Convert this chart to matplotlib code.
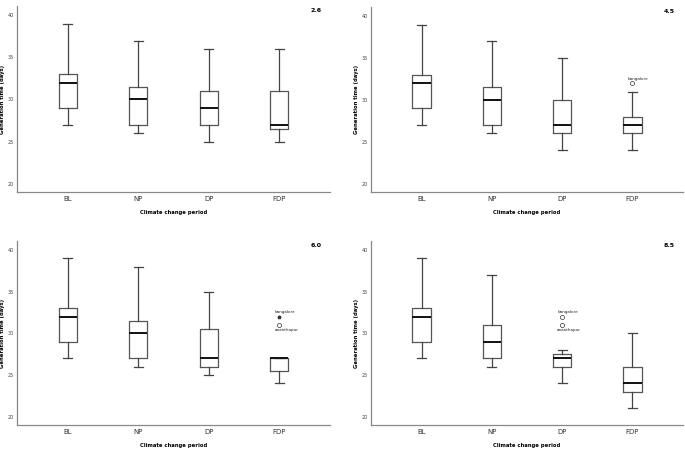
import matplotlib.pyplot as plt

periods = ["BL", "NP", "DP", "FDP"]
scenarios = ["2.6", "4.5", "6.0", "8.5"]

# box stats per scenario: (whislo, q1, med, q3, whishi) for BL, NP, DP, FDP
stats_26 = [(27, 29, 32, 33, 39), (26, 27, 30, 31.5, 37), (25, 27, 29, 31, 36), (25, 26.5, 27, 31, 36)]
stats_45 = [(27, 29, 32, 33, 39), (26, 27, 30, 31.5, 37), (24, 26, 27, 30, 35), (24, 26, 27, 28, 31)]
stats_60 = [(27, 29, 32, 33, 39), (26, 27, 30, 31.5, 38), (25, 26, 27, 30.5, 35), (24, 25.5, 27, 27, 27)]
stats_85 = [(27, 29, 32, 33, 39), (26, 27, 29, 31, 37), (24, 26, 27, 27.5, 28), (21, 23, 24, 26, 30)]
all_stats = [stats_26, stats_45, stats_60, stats_85]

# outliers: (period index, value, marker, label, label above?)
outliers_26 = []
outliers_45 = [(3, 32, "o", "bangalore", True)]
outliers_60 = [(3, 32, "*", "bangalore", True), (3, 31, "o", "ananthapur", False)]
outliers_85 = [(2, 32, "o", "bangalore", True), (2, 31, "o", "ananthapur", False)]
all_outliers = [outliers_26, outliers_45, outliers_60, outliers_85]

positions = [
    [0.0248, 0.5724, 0.4570, 0.4142],
    [0.5416, 0.5724, 0.4555, 0.4120],
    [0.0248, 0.0535, 0.4570, 0.4098],
    [0.5416, 0.0535, 0.4555, 0.4098],
]

fig = plt.figure(figsize=(6.85, 4.49), dpi=100)

for k in range(4):
    ax = fig.add_axes(positions[k])
    bxs = []
    for i, s in enumerate(all_stats[k]):
        bxs.append({"whislo": s[0], "q1": s[1], "med": s[2], "q3": s[3],
                    "whishi": s[4], "fliers": [], "label": periods[i]})
    ax.bxp(bxs, positions=range(4), widths=0.26, showfliers=False,
           boxprops=dict(color="#555555", linewidth=0.9),
           whiskerprops=dict(color="#444444", linewidth=0.9),
           capprops=dict(color="#444444", linewidth=0.9),
           medianprops=dict(color="#111111", linewidth=1.4))
    for idx, val, mk, lab, above in all_outliers[k]:
        if mk == "*":
            ax.plot(idx, val, marker="*", color="#333333", markersize=2.5, linestyle="none")
        else:
            ax.plot(idx, val, marker="o", mfc="none", mec="#333333", markersize=3,
                    markeredgewidth=0.5, linestyle="none")
        if above:
            ax.text(idx - 0.07, val + 0.3, lab, fontsize=3.0, ha="left", va="bottom", color="#222222")
        else:
            ax.text(idx - 0.07, val - 0.3, lab, fontsize=3.0, ha="left", va="top", color="#222222")

    ax.set_xlim(-0.72, 3.72)
    ax.set_ylim(19, 41.1)
    ax.set_yticks([20, 25, 30, 35, 40])
    ax.set_xticks(range(4))
    ax.set_xticklabels(periods, fontsize=5, color="#333333")
    ax.tick_params(axis="y", labelsize=3.5, length=0, pad=2, colors="#444444")
    ax.tick_params(axis="x", length=0, pad=3)
    for side in ["top", "right"]:
        ax.spines[side].set_visible(False)
    for side in ["left", "bottom"]:
        ax.spines[side].set_color("#888888")
        ax.spines[side].set_linewidth(0.9)
    ax.set_xlabel("Climate change period", fontsize=3.8, fontweight="bold")
    ax.set_ylabel("Generation time (days)", fontsize=3.8, fontweight="bold")
    ax.xaxis.set_label_coords(0.5, -0.097)
    ax.yaxis.set_label_coords(-0.038, 0.5)
    ax.text(0.955, 0.975, scenarios[k], transform=ax.transAxes, fontsize=4.5,
            fontweight="bold", ha="center", va="center")

fig.savefig("out.png", dpi=100)
